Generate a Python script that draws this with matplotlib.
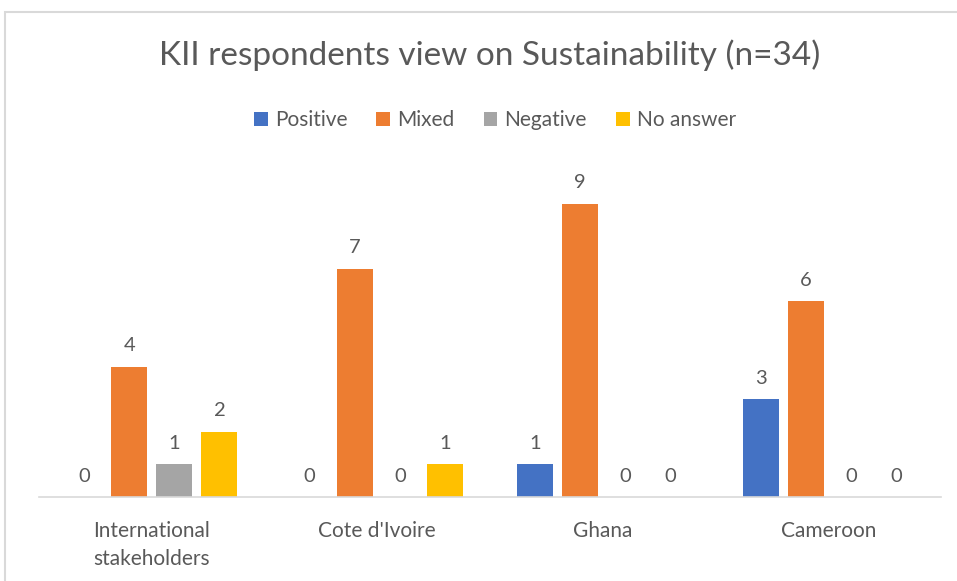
import matplotlib
matplotlib.use("Agg")
import matplotlib.pyplot as plt
from matplotlib.patches import Rectangle
import numpy as np

plt.rcParams['font.family'] = ['Lato', 'DejaVu Sans']

categories = ["International\nstakeholders", "Cote d'Ivoire", "Ghana", "Cameroon"]
series_names = ["Positive", "Mixed", "Negative", "No answer"]
positive = [0, 0, 1, 3]
mixed = [4, 7, 9, 6]
negative = [1, 0, 0, 0]
no_answer = [2, 1, 0, 0]
colors = ["#4472C4", "#ED7D31", "#A5A5A5", "#FFC000"]
title = "KII respondents view on Sustainability (n=34)"

W, H = 957, 581
fig = plt.figure(figsize=(W / 100, H / 100), dpi=100)
fig.patch.set_facecolor("white")

# outer chart border (light gray)
fig.patches.append(Rectangle((5 / W, -0.1), 1.2, 1 - 12 / H + 0.1, transform=fig.transFigure,
                             fill=False, edgecolor="#D9D9D9", linewidth=1.5))

ax = fig.add_axes([39 / W, 84 / H, (941 - 39) / W, 326 / H])
x = np.arange(len(categories))
width = 0.16
offsets = [-0.3, -0.1, 0.1, 0.3]
text_color = "#595959"
for vals, name, c, off in zip([positive, mixed, negative, no_answer], series_names, colors, offsets):
    bars = ax.bar(x + off, vals, width, color=c, label=name)
    for b, v in zip(bars, vals):
        ax.annotate(str(v), (b.get_x() + b.get_width() / 2, v), xytext=(0, 9),
                    textcoords="offset points", ha="center", va="bottom",
                    fontsize=14.5, color=text_color)

ax.set_xlim(-0.5, len(categories) - 0.5)
ax.set_ylim(0, 10)
ax.set_yticks([])
for s in ["top", "right", "left"]:
    ax.spines[s].set_visible(False)
ax.spines["bottom"].set_color("#D9D9D9")
ax.spines["bottom"].set_linewidth(1.2)
ax.set_xticks(x)
ax.set_xticklabels(categories, fontsize=15, color=text_color, linespacing=1.5)
ax.tick_params(axis="x", length=0, pad=17)
ax.set_facecolor("none")

fig.text(490 / W, 1 - 55 / H, title, ha="center", va="center", fontsize=24, color=text_color)

handles, labels = ax.get_legend_handles_labels()
leg = fig.legend(handles, labels, loc="center", bbox_to_anchor=(495 / W, 1 - 120 / H), ncol=4,
                 frameon=False, fontsize=15, handlelength=0.65, handleheight=0.65,
                 handletextpad=0.35, columnspacing=1.4)
for t in leg.get_texts():
    t.set_color(text_color)

fig.savefig("out.png", dpi=100)
